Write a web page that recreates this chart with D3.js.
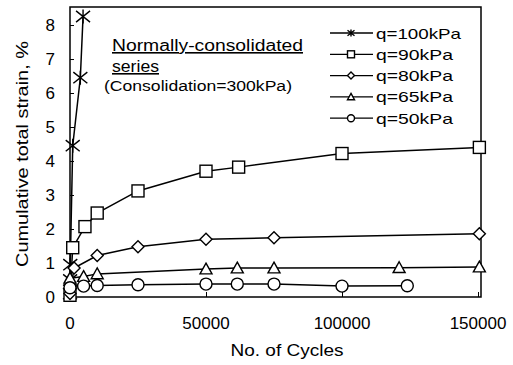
<!DOCTYPE html>
<html>
<head>
<meta charset="utf-8">
<script src="https://cdn.jsdelivr.net/npm/d3@7"></script>
<style>
body { margin: 0; background: #fff; }
text { font-family: "Liberation Sans", Arial, sans-serif; fill: #000; }
</style>
</head>
<body>
<svg id="chart" width="513" height="365"></svg>
<script>
// data: [cycles, strain %]
var q100 = [[0, 0.1], [50, 0.5], [100, 0.95], [1000, 4.45], [3800, 6.45], [4800, 8.25]];
var q90 = [[0, 0.05], [1000, 1.45], [5500, 2.07], [10000, 2.47], [25000, 3.12], [50000, 3.7], [62000, 3.82], [100000, 4.22], [150500, 4.4]];
var q80 = [[0, 0.1], [1500, 0.85], [10000, 1.22], [25000, 1.48], [50000, 1.7], [75000, 1.74], [150500, 1.86]];
var q65 = [[0, 0.55], [5000, 0.6], [10000, 0.68], [50000, 0.82], [61500, 0.85], [75000, 0.85], [121000, 0.86], [150500, 0.88]];
var q50 = [[0, 0.27], [5000, 0.32], [10000, 0.34], [25000, 0.36], [50000, 0.38], [61500, 0.38], [75000, 0.38], [100000, 0.32], [124000, 0.33]];
var seriesNames = ["q=100kPa", "q=90kPa", "q=80kPa", "q=65kPa", "q=50kPa"];
var seriesSymbols = ["cross", "square", "diamond", "triangle", "circle"];
var xTicks = [0, 50000, 100000, 150000];
var yTicks = [0, 1, 2, 3, 4, 5, 6, 7, 8];

var svg = d3.select("#chart");
var x = d3.scaleLinear().domain([0, 151100]).range([70, 481]);
var y = d3.scaleLinear().domain([0, 8.53]).range([297, 7]);
var allSeries = [q100, q90, q80, q65, q50];

function marker(g, kind, s) {
	var h = s / 2;
	if (kind == "square") {
		g.append("rect").attr("x", -h).attr("y", -h).attr("width", s).attr("height", s);
	} else if (kind == "diamond") {
		g.append("path").attr("d", "M0," + (-h) + "L" + h + ",0L0," + h + "L" + (-h) + ",0Z");
	} else if (kind == "triangle") {
		g.append("path").attr("d", "M0," + (-h) + "L" + h + "," + (h * 0.8) + "L" + (-h) + "," + (h * 0.8) + "Z");
	} else if (kind == "circle") {
		g.append("circle").attr("r", h);
	} else {
		g.append("path").attr("d", "M" + (-h) + "," + (-h * 0.8) + "L" + h + "," + (h * 0.8) + "M" + (-h) + "," + (h * 0.8) + "L" + h + "," + (-h * 0.8) + "M0," + (-h) + "L0," + h);
	}
	g.selectAll("*").style("fill", "#fff").style("stroke", "#000").style("stroke-width", 1.4);
}

// wide scanned font: stretch text to the measured width
function label(sel, len) {
	return sel.attr("textLength", len).attr("lengthAdjust", "spacingAndGlyphs");
}

// frame
svg.append("rect")
   .attr("x", x.range()[0]).attr("y", y.range()[1])
   .attr("width", x.range()[1] - x.range()[0])
   .attr("height", y.range()[0] - y.range()[1])
   .style("fill", "none").style("stroke", "#000").style("stroke-width", 1.5);

// axes with inward ticks
svg.append("g")
   .attr("transform", "translate(" + x.range()[0] + ",0)")
   .call(d3.axisRight(y).tickValues(yTicks).tickSize(4).tickFormat(""))
   .call(g => g.select(".domain").remove());
svg.append("g")
   .attr("transform", "translate(0," + y.range()[0] + ")")
   .call(d3.axisTop(x).tickValues(xTicks.slice(1)).tickSize(5).tickFormat(""))
   .call(g => g.select(".domain").remove());

svg.selectAll(".ylab").data(yTicks).enter().append("text")
   .attr("x", 55).attr("y", d => y(d) + 6)
   .attr("text-anchor", "end").style("font-size", "17px").text(d => d);
svg.selectAll(".xlab").data(xTicks).enter().append("text")
   .attr("x", d => x(d)).attr("y", 329)
   .attr("text-anchor", "middle").style("font-size", "17px").text(d => d);

label(svg.append("text").attr("x", 287).attr("y", 356).attr("text-anchor", "middle")
   .style("font-size", "16px").text("No. of Cycles"), 113);
label(svg.append("text").attr("transform", "translate(28,154) rotate(-90)").attr("text-anchor", "middle")
   .style("font-size", "16px").text("Cumulative total strain, %"), 226);

// series
var line = d3.line().x(d => x(d[0])).y(d => y(d[1]));
allSeries.forEach(function(data, i) {
	svg.append("path").datum(data).attr("d", line)
	   .style("fill", "none").style("stroke", "#000").style("stroke-width", 1.5);
});
allSeries.forEach(function(data, i) {
	data.forEach(function(d) {
		var g = svg.append("g").attr("transform", "translate(" + x(d[0]) + "," + y(d[1]) + ")");
		marker(g, seriesSymbols[i], seriesSymbols[i] == "cross" ? 14 : 12);
	});
});

// legend
var legWidths = [85, 77, 77, 77, 77];
var leg = svg.append("g").attr("transform", "translate(330,33)");
seriesNames.forEach(function(name, i) {
	var row = leg.append("g").attr("transform", "translate(0," + (i * 21.3) + ")");
	row.append("line").attr("x1", 0).attr("x2", 43).style("stroke", "#000").style("stroke-width", 1.3);
	marker(row.append("g").attr("transform", "translate(21,0)"), seriesSymbols[i], 7);
	label(row.append("text").attr("x", 46).attr("y", 5.5).style("font-size", "15px").text(name), legWidths[i]);
});

// annotation
label(svg.append("text").attr("x", 112).attr("y", 51).style("font-size", "16px")
   .style("text-decoration", "underline").text("Normally-consolidated"), 191);
label(svg.append("text").attr("x", 112).attr("y", 72).style("font-size", "16px")
   .style("text-decoration", "underline").text("series"), 47);
label(svg.append("text").attr("x", 104).attr("y", 91).style("font-size", "14px")
   .text("(Consolidation=300kPa)"), 188);
</script>
</body>
</html>
